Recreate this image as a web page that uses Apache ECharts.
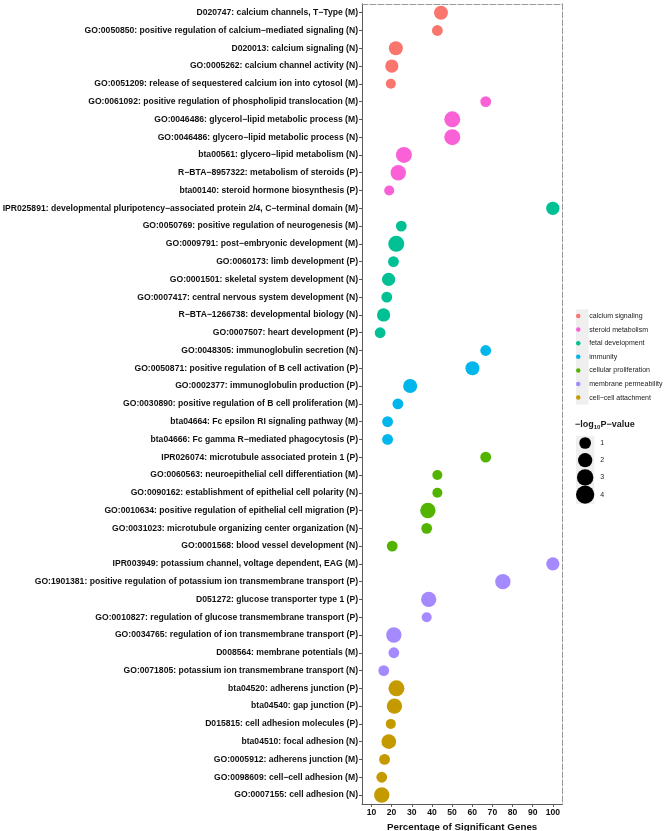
<!DOCTYPE html>
<html>
<head>
<meta charset="utf-8">
<script src="https://cdn.jsdelivr.net/npm/echarts@6/dist/echarts.min.js"></script>
<style>
  html, body { margin: 0; padding: 0; background: #fff; }
  #chart { width: 669px; height: 831px; }
</style>
</head>
<body>
<div id="chart"></div>
<script>
// terms, top to bottom
var terms = [
  "D020747: calcium channels, T\u2212Type (M)",
  "GO:0050850: positive regulation of calcium\u2212mediated signaling (N)",
  "D020013: calcium signaling (N)",
  "GO:0005262: calcium channel activity (N)",
  "GO:0051209: release of sequestered calcium ion into cytosol (M)",
  "GO:0061092: positive regulation of phospholipid translocation (M)",
  "GO:0046486: glycerol\u2212lipid metabolic process (M)",
  "GO:0046486: glycero\u2212lipid metabolic process (N)",
  "bta00561: glycero\u2212lipid metabolism (N)",
  "R\u2212BTA\u22128957322: metabolism of steroids (P)",
  "bta00140: steroid hormone biosynthesis (P)",
  "IPR025891: developmental pluripotency\u2212associated protein 2/4, C\u2212terminal domain (M)",
  "GO:0050769: positive regulation of neurogenesis (M)",
  "GO:0009791: post\u2212embryonic development (M)",
  "GO:0060173: limb development (P)",
  "GO:0001501: skeletal system development (N)",
  "GO:0007417: central nervous system development (N)",
  "R\u2212BTA\u22121266738: developmental biology (N)",
  "GO:0007507: heart development (P)",
  "GO:0048305: immunoglobulin secretion (N)",
  "GO:0050871: positive regulation of B cell activation (P)",
  "GO:0002377: immunoglobulin production (P)",
  "GO:0030890: positive regulation of B cell proliferation (M)",
  "bta04664: Fc epsilon RI signaling pathway (M)",
  "bta04666: Fc gamma R\u2212mediated phagocytosis (P)",
  "IPR026074: microtubule associated protein 1 (P)",
  "GO:0060563: neuroepithelial cell differentiation (M)",
  "GO:0090162: establishment of epithelial cell polarity (N)",
  "GO:0010634: positive regulation of epithelial cell migration (P)",
  "GO:0031023: microtubule organizing center organization (N)",
  "GO:0001568: blood vessel development (N)",
  "IPR003949: potassium channel, voltage dependent, EAG (M)",
  "GO:1901381: positive regulation of potassium ion transmembrane transport (P)",
  "D051272: glucose transporter type 1 (P)",
  "GO:0010827: regulation of glucose transmembrane transport (P)",
  "GO:0034765: regulation of ion transmembrane transport (P)",
  "D008564: membrane potentials (M)",
  "GO:0071805: potassium ion transmembrane transport (N)",
  "bta04520: adherens junction (P)",
  "bta04540: gap junction (P)",
  "D015815: cell adhesion molecules (P)",
  "bta04510: focal adhesion (N)",
  "GO:0005912: adherens junction (M)",
  "GO:0098609: cell\u2212cell adhesion (M)",
  "GO:0007155: cell adhesion (N)"
];

// percentage of significant genes
var pct = [
  44.5, 42.7, 22.1, 20.1, 19.6, 66.7, 50.1, 50.1, 26.1, 23.3, 18.8,
  100, 24.8, 22.3, 20.9, 18.5, 17.6, 16.0, 14.3,
  66.7, 60.1, 29.2, 23.1, 18.0, 18.0,
  66.7, 42.7, 42.7, 38.0, 37.4, 20.3,
  100, 75.2, 38.4, 37.4, 21.1, 21.1, 16.1,
  22.4, 21.4, 19.6, 18.6, 16.5, 15.1, 15.1
];

// -log10 P-value
var logp = [
  1.9, 0.7, 1.9, 1.6, 0.45, 0.7, 2.8, 2.8, 2.8, 2.5, 0.45,
  1.6, 0.7, 2.8, 0.7, 1.6, 0.7, 1.6, 0.7,
  0.7, 1.9, 1.9, 0.7, 0.7, 0.7,
  0.7, 0.45, 0.45, 2.5, 0.7, 0.7,
  1.6, 2.5, 2.5, 0.45, 2.5, 0.7, 0.7,
  2.8, 2.5, 0.45, 2.2, 0.7, 0.7, 2.5
];

// group index of each term
var groupOf = [
  0, 0, 0, 0, 0, 1, 1, 1, 1, 1, 1,
  2, 2, 2, 2, 2, 2, 2, 2,
  3, 3, 3, 3, 3, 3,
  4, 4, 4, 4, 4, 4,
  5, 5, 5, 5, 5, 5, 5,
  6, 6, 6, 6, 6, 6, 6
];

var groups = [
  "calcium signaling",
  "steroid metabolism",
  "fetal development",
  "immunity",
  "cellular proliferation",
  "membrane permeability",
  "cell\u2212cell attachment"
];
var colors = ["#F8766D", "#FB61D7", "#00C094", "#00B6EB", "#53B400", "#A58AFF", "#C49A00"];

var sizeBreaks = [1, 2, 3, 4];
var xTicks = [10, 20, 30, 40, 50, 60, 70, 80, 90, 100];

var FONT = "Liberation Sans, Arial, sans-serif";

function dotSize(v) {
  return Math.sqrt(70.9 + 66 * v);
}

var series = groups.map(function (g, gi) {
  var data = [];
  for (var i = 0; i < terms.length; i++) {
    if (groupOf[i] === gi) data.push([pct[i], terms[i], logp[i]]);
  }
  return {
    name: g,
    type: "scatter",
    xAxisIndex: 0,
    yAxisIndex: 0,
    data: data,
    symbolSize: function (val) { return dotSize(val[2]); },
    itemStyle: { color: colors[gi], opacity: 1 },
    emphasis: { disabled: true },
    silent: true
  };
});

// size legend
series.push({
  name: "size",
  type: "scatter",
  xAxisIndex: 2,
  yAxisIndex: 2,
  data: sizeBreaks.map(function (b) { return [1, String(b), b]; }),
  symbolSize: function (val) { return dotSize(val[2]); },
  itemStyle: { color: "#000", opacity: 1 },
  silent: true
});

// one legend per group so rows sit on the reference spacing
var legendRowY = 316, legendStep = 13.6;
var legends = groups.map(function (g, gi) {
  return {
    data: [g],
    left: 576,
    top: legendRowY + gi * legendStep - 4,
    padding: 0,
    icon: "circle",
    itemWidth: 12,
    itemHeight: 4.5,
    selectedMode: false,
    textStyle: { fontFamily: FONT, fontSize: 7, color: "#1a1a1a", lineHeight: 8 }
  };
});

var chart = echarts.init(document.getElementById("chart"), null, { renderer: "canvas" });

var option = {
  animation: false,
  color: colors,
  title: {
    text: "{a|\u2212log}{b|10}{a|P\u2212value}",
    left: 575,
    top: 419,
    padding: 0,
    textStyle: {
      rich: {
        a: { fontFamily: FONT, fontSize: 9, color: "#1a1a1a", lineHeight: 12 },
        b: { fontFamily: FONT, fontSize: 6, color: "#1a1a1a", lineHeight: 12, padding: [5, 0, 0, 0] }
      }
    }
  },
  legend: legends,
  graphic: [
    { type: "rect", z: -1, shape: { x: 576, y: 309.2, width: 12.6, height: 95.2 }, style: { fill: "#EFEFEF" } },
    { type: "rect", z: -1, shape: { x: 576, y: 436, width: 18.3, height: 68 }, style: { fill: "#EFEFEF" } }
  ],
  grid: [
    { left: 362, top: 3.8, width: 200.3, height: 800.1, containLabel: false, outerBoundsMode: "none" },
    { left: 576, top: 434.4, width: 18.3, height: 68.8, containLabel: false, outerBoundsMode: "none" }
  ],
  xAxis: [
    {
      type: "value",
      gridIndex: 0,
      position: "bottom",
      min: 5.3,
      max: 104.7,
      axisLine: { show: true, lineStyle: { color: "#5a5a5a", width: 1 } },
      axisTick: { show: true, length: 3, lineStyle: { color: "#5a5a5a" }, customValues: xTicks },
      axisLabel: {
        customValues: xTicks,
        fontFamily: FONT, fontSize: 8.6, fontWeight: "bold", color: "#111", margin: 4
      },
      splitLine: { show: false },
      name: "Percentage of Significant Genes",
      nameLocation: "middle",
      nameGap: 14,
      nameTextStyle: { fontFamily: FONT, fontSize: 9.8, fontWeight: "bold", color: "#111" }
    },
    {
      type: "value",
      gridIndex: 0,
      position: "top",
      min: 5.3,
      max: 104.7,
      axisLine: { show: true, lineStyle: { color: "#999", width: 1, type: [6, 2] } },
      axisTick: { show: false },
      axisLabel: { show: false },
      splitLine: { show: false }
    },
    {
      type: "value",
      gridIndex: 1,
      min: 0,
      max: 2,
      show: false
    }
  ],
  yAxis: [
    {
      type: "category",
      gridIndex: 0,
      data: terms,
      inverse: true,
      axisLine: { show: true, lineStyle: { color: "#5a5a5a", width: 1 } },
      axisTick: { show: true, length: 3, alignWithLabel: true, lineStyle: { color: "#5a5a5a" } },
      axisLabel: {
        interval: 0, fontFamily: FONT, fontSize: 8.6, fontWeight: "bold", color: "#111", margin: 4
      },
      splitLine: { show: false }
    },
    {
      type: "category",
      gridIndex: 0,
      data: terms,
      inverse: true,
      position: "right",
      axisLine: { show: true, lineStyle: { color: "#999", width: 1, type: [6, 2] } },
      axisTick: { show: false },
      axisLabel: { show: false },
      splitLine: { show: false }
    },
    {
      type: "category",
      gridIndex: 1,
      data: sizeBreaks.map(String),
      inverse: true,
      position: "right",
      axisLine: { show: false },
      axisTick: { show: false },
      axisLabel: { fontFamily: FONT, fontSize: 7, color: "#1a1a1a", margin: 6 },
      splitLine: { show: false }
    }
  ],
  series: series
};

chart.setOption(option);
</script>
</body>
</html>
